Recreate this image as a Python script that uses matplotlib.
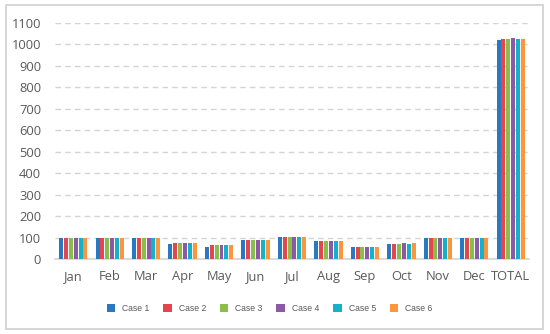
import matplotlib.pyplot as plt
import numpy as np
from matplotlib.patches import Rectangle

# category labels and per-case values
months = ['Jan', 'Feb', 'Mar', 'Apr', 'May', 'Jun', 'Jul', 'Aug', 'Sep', 'Oct', 'Nov', 'Dec', 'TOTAL']
cases = ['Case 1', 'Case 2', 'Case 3', 'Case 4', 'Case 5', 'Case 6']

case1 = [100, 100, 97, 68, 58, 90, 101, 85, 58, 68, 97, 100, 1020]
case2 = [100, 100, 96, 74, 63, 90, 101, 85, 58, 68, 97, 100, 1026]
case3 = [100, 100, 97, 74, 63, 90, 101, 85, 58, 68, 97, 100, 1026]
case4 = [100, 100, 97, 74, 63, 90, 101, 85, 58, 74, 97, 100, 1027]
case5 = [100, 100, 97, 74, 63, 90, 101, 85, 58, 68, 97, 100, 1026]
case6 = [100, 100, 97, 74, 63, 90, 101, 85, 58, 74, 97, 100, 1026]
series = [case1, case2, case3, case4, case5, case6]

colors = ['#2a78c2', '#e5454c', '#8bbd4b', '#8a5aa6', '#14b1c9', '#fb963f']

plt.rcParams['font.family'] = ['Open Sans', 'DejaVu Sans']

fig = plt.figure(figsize=(5.5, 3.34), dpi=100)
ax = fig.add_axes([0.1, 0.2246, 0.8618, 0.7074])

# light frame around the whole chart
fig.patches.append(Rectangle((6 / 550, 1 - 329 / 334), 537 / 550, 324 / 334,
                             transform=fig.transFigure, fill=False,
                             edgecolor='#d0d0d0', linewidth=1.2))

x = np.arange(len(months))
slot = 0.8 / len(cases)
for i, (name, vals) in enumerate(zip(cases, series)):
    offs = (i - (len(cases) - 1) / 2) * slot
    ax.bar(x + offs, vals, width=slot * 0.82, color=colors[i], label=name, zorder=3)

ax.set_xlim(-0.5, len(months) - 0.5)
ax.set_ylim(0, 1100)
ax.set_yticks(range(0, 1101, 100))
ax.set_xticks(x)
ax.set_xticklabels(months)

ax.yaxis.grid(True, linestyle=(0, (4, 3)), color='#d4d4d4', linewidth=1, zorder=0)
ax.set_axisbelow(True)
for s in ['top', 'right', 'left']:
    ax.spines[s].set_visible(False)
ax.spines['bottom'].set_color('#d4d4d4')
ax.spines['bottom'].set_linewidth(1.2)
ax.tick_params(axis='both', length=0, labelsize=9.3, colors='#595959')
ax.tick_params(axis='y', pad=10)
ax.tick_params(axis='x', pad=8)

fig.legend(loc='center', bbox_to_anchor=(0.49, 0.077), ncol=6, frameon=False,
           prop={'family': 'Liberation Sans', 'size': 6.2}, labelcolor='#595959',
           handlelength=1.0, handleheight=1.0, handletextpad=0.8, columnspacing=1.6)

fig.savefig('out.png', dpi=100)
